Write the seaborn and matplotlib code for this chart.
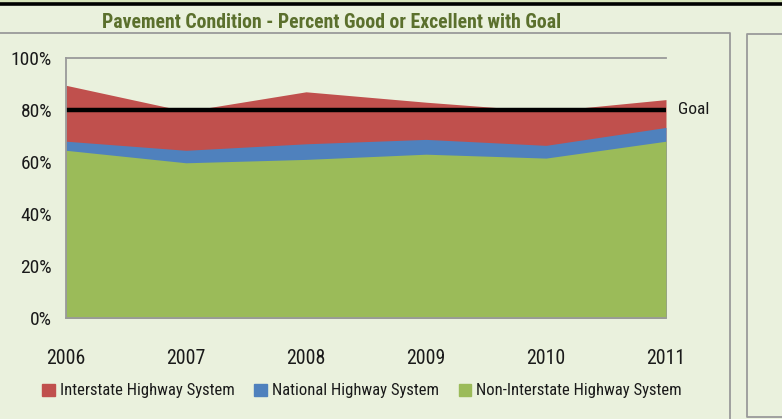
import matplotlib
matplotlib.use('Agg')
import matplotlib.pyplot as plt
import seaborn as sns
import pandas as pd
from matplotlib.lines import Line2D
from matplotlib.patches import Patch

# Chart data (percent good or excellent)
years = [2006, 2007, 2008, 2009, 2010, 2011]
interstate = [89.5, 79.5, 87, 83, 79.5, 84]
national = [68, 64.5, 67, 68.7, 66.4, 73.3]
non_interstate = [64.5, 59.7, 61, 63, 61.5, 68]
goal = [80, 80, 80, 80, 80, 80]
y_ticks = [0, 20, 40, 60, 80, 100]

bg = '#EAF1DD'
sns.set_style('white')
plt.rcParams['font.family'] = ['Roboto Condensed', 'DejaVu Sans']
plt.rcParams['font.stretch'] = 'condensed'

df = pd.DataFrame({'Year': years, 'Goal': goal})

fig = plt.figure(figsize=(7.82, 4.19), dpi=100, facecolor=bg)
ax = fig.add_axes([66 / 782, 101 / 419, 600 / 782, 260 / 419])
ax.set_facecolor(bg)

# Overlapping areas, drawn back to front
ax.fill_between(years, 0, interstate, color='#C0504D', lw=0)
ax.fill_between(years, 0, national, color='#4F81BD', lw=0)
ax.fill_between(years, 0, non_interstate, color='#9BBB59', lw=0)
sns.lineplot(data=df, x='Year', y='Goal', color='black', lw=3.2, ax=ax, legend=False)
ax.text(2011.1, 80, 'Goal', fontsize=12.5, va='center', ha='left', color='#1A1A1A')

ax.set_xlim(2006, 2011)
ax.set_ylim(0, 100)
ax.set_xticks(years)
ax.set_xticklabels([str(y) for y in years], fontsize=14.3, color='#1A1A1A')
ax.set_yticks(y_ticks)
ax.set_yticklabels([f'{v}%' for v in y_ticks], fontsize=14, color='#1A1A1A')
ax.set_xlabel('')
ax.set_ylabel('')
ax.tick_params(axis='both', direction='out', length=5, width=1.2, color='#8C8C8C', pad=5)
ax.tick_params(axis='x', pad=17)
for side in ['left', 'bottom', 'top']:
    ax.spines[side].set_color('#9A9A9A')
    ax.spines[side].set_linewidth(1.3)
ax.spines['right'].set_visible(False)

handles = [Patch(color='#C0504D', label='Interstate Highway System'),
           Patch(color='#4F81BD', label='National Highway System'),
           Patch(color='#9BBB59', label='Non-Interstate Highway System')]
fig.legend(handles=handles, loc='center', bbox_to_anchor=(362 / 782, 1 - 391 / 419),
           ncol=3, frameon=False, fontsize=12, handlelength=0.75, handleheight=0.75,
           handletextpad=0.3, columnspacing=1.2, labelcolor='#1A1A1A')

fig.text(332 / 782, 1 - 22 / 419, 'Pavement Condition - Percent Good or Excellent with Goal',
         ha='center', va='center', fontsize=14.2, fontweight='bold', color='#5B702D')

# Frame and page decoration
fig.patches.append(plt.Rectangle((0, 1 - 3 / 419), 1, 3 / 419, transform=fig.transFigure,
                                 color='#D7E4BC', zorder=0))
fig.lines.append(Line2D([0, 1], [1 - 4.5 / 419, 1 - 4.5 / 419], transform=fig.transFigure,
                        color='black', lw=2.6))
fig.lines.append(Line2D([0, 730 / 782, 730 / 782], [1 - 33 / 419, 1 - 33 / 419, 0],
                        transform=fig.transFigure, color='#9A9A9A', lw=1.3))
fig.lines.append(Line2D([1, 747 / 782, 747 / 782, 1], [1 - 34 / 419, 1 - 34 / 419, 2 / 419, 2 / 419],
                        transform=fig.transFigure, color='#9A9A9A', lw=1.3))

fig.savefig('out.png', dpi=100, facecolor=bg)
